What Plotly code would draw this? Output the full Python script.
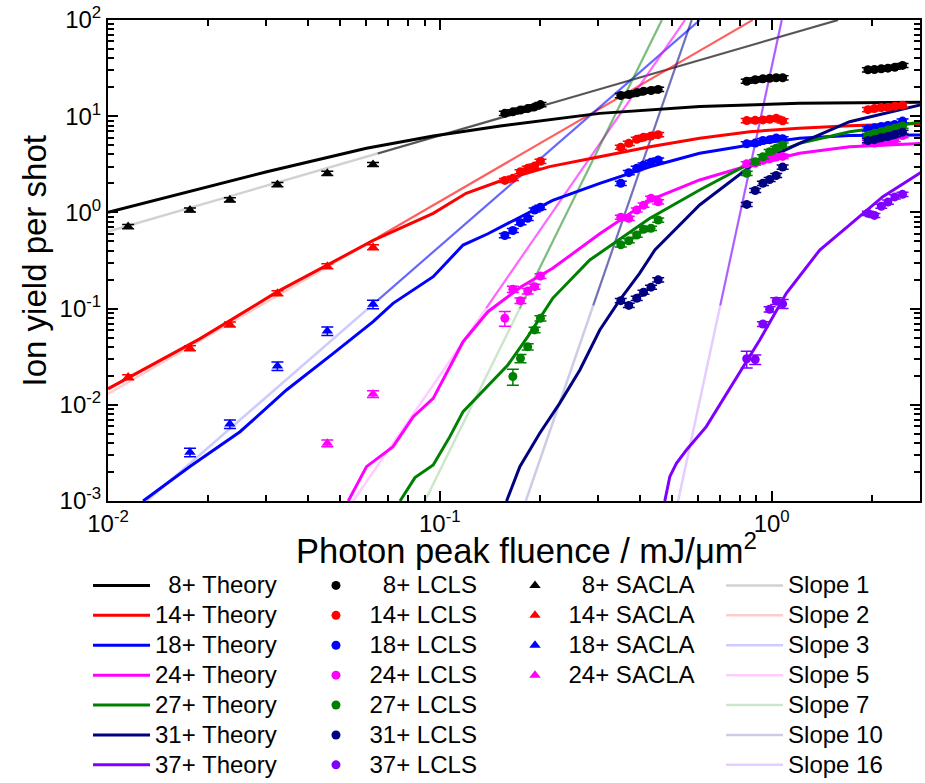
import plotly.graph_objects as go

FONT = "Liberation Sans, Arial, sans-serif"

# ---------------- data ----------------
X_RANGE_LOG = [-2.0, 0.447]
Y_RANGE_LOG = [-3.0, 2.0]

CHARGES = ["8+", "14+", "18+", "24+", "27+", "31+", "37+"]
COLORS = ["#000000", "#FF0000", "#0000FF", "#FF00FF", "#008000", "#000080", "#8000FF"]

# Theory curves
THEORY_8_X = [0.01, 0.0177, 0.0301, 0.0601, 0.0955, 0.152, 0.303, 0.607, 1.21, 2.89]
THEORY_8_Y = [1.0, 1.65, 2.65, 4.65, 6.22, 7.9, 10.7, 12.6, 13.6, 14.0]
THEORY_14_X = [0.01, 0.0189, 0.0324, 0.0478, 0.0630, 0.0955, 0.120, 0.152, 0.214, 0.303,
               0.430, 0.607, 0.859, 1.21, 1.72, 2.89]
THEORY_14_Y = [0.01466, 0.0485, 0.150, 0.308, 0.511, 0.977, 1.58, 2.12, 2.99, 3.79,
               4.82, 5.89, 6.90, 7.48, 7.96, 8.43]
THEORY_18_X = [0.01276, 0.01766, 0.025, 0.03451, 0.04775, 0.06295, 0.07228, 0.0955, 0.1175,
               0.1396, 0.1742, 0.2188, 0.3034, 0.4295, 0.6067, 0.859, 1.213, 1.718, 2.891]
THEORY_18_Y = [0.001, 0.002286, 0.005248, 0.01426, 0.03428, 0.07311, 0.1135, 0.2148, 0.4581,
               0.5998, 0.8913, 1.334, 2.004, 2.985, 4.111, 5.023, 5.888, 6.31, 6.383]
THEORY_24_X = [0.05297, 0.06012, 0.07228, 0.08318, 0.0955, 0.1175, 0.1396, 0.1758, 0.2188,
               0.3034, 0.4295, 0.6067, 0.859, 1.213, 1.718, 2.891]
THEORY_24_Y = [0.001, 0.002275, 0.003673, 0.007516, 0.01167, 0.04529, 0.0929, 0.169, 0.2624,
               0.5998, 1.346, 2.173, 3.097, 4.111, 4.819, 5.224]
THEORY_27_X = [0.07586, 0.08414, 0.0955, 0.1072, 0.1175, 0.1396, 0.1603, 0.1841, 0.2188,
               0.2831, 0.4295, 0.6067, 0.859, 1.213, 1.718, 2.891]
THEORY_27_Y = [0.001, 0.00175, 0.002366, 0.004667, 0.008492, 0.01567, 0.02594, 0.05105, 0.1279,
               0.3199, 0.869, 1.71, 3.236, 5.224, 6.902, 8.77]
THEORY_31_X = [0.1589, 0.1742, 0.2, 0.2296, 0.2642, 0.3034, 0.3483, 0.3999, 0.4446, 0.6067,
               0.859, 1.213, 1.718, 2.891]
THEORY_31_Y = [0.001, 0.002275, 0.005058, 0.01035, 0.02301, 0.05998, 0.1227, 0.2328, 0.4064,
               1.194, 2.985, 5.224, 8.77, 13.4]
THEORY_37_X = [0.4764, 0.4932, 0.5164, 0.5534, 0.6353, 0.7656, 0.9204, 1.107, 1.396, 1.718,
               2.163, 2.891]
THEORY_37_Y = [0.001, 0.001791, 0.002466, 0.003388, 0.005929, 0.01675, 0.0471, 0.1442, 0.4064,
               0.7413, 1.459, 2.761]

THEORY_X = [THEORY_8_X, THEORY_14_X, THEORY_18_X, THEORY_24_X, THEORY_27_X, THEORY_31_X, THEORY_37_X]
THEORY_Y = [THEORY_8_Y, THEORY_14_Y, THEORY_18_Y, THEORY_24_Y, THEORY_27_Y, THEORY_31_Y, THEORY_37_Y]

# LCLS measurements: four fluence clusters, six points each
LCLS_X = [0.157, 0.166, 0.175, 0.184, 0.193, 0.201,
          0.351, 0.371, 0.392, 0.411, 0.433, 0.455,
          0.841, 0.892, 0.941, 0.986, 1.032, 1.079,
          1.95, 2.04, 2.14, 2.24, 2.35, 2.48]
LCLS_8 = [10.7, 11.1, 11.6, 12.0, 12.5, 13.2,
          16.4, 16.8, 17.5, 18.2, 18.5, 19.0,
          23.1, 23.9, 24.5, 24.8, 25.1, 25.1,
          30.4, 30.6, 31.1, 31.6, 32.3, 33.7]
LCLS_14 = [2.15, 2.26, 2.65, 2.87, 3.03, 3.40,
           4.76, 5.22, 5.75, 6.04, 6.23, 6.43,
           9.0, 9.05, 9.15, 9.3, 9.5, 8.95,
           11.7, 12.0, 12.3, 12.4, 12.7, 13.0]
LCLS_18 = [0.575, 0.649, 0.782, 0.869, 1.06, 1.13,
           2.01, 2.59, 2.87, 3.11, 3.32, 3.51,
           5.16, 5.25, 5.59, 5.70, 5.93, 5.84,
           7.40, 7.58, 7.82, 8.01, 8.21, 8.90]
LCLS_24 = [0.0794, 0.159, 0.121, 0.152, 0.169, 0.218,
           0.891, 0.869, 1.06, 1.19, 1.40, 1.29,
           3.20, 3.25, 3.47, 3.61, 3.76, 3.82,
           5.37, 5.25, 5.37, 5.50, 5.70, 6.30]
LCLS_27 = [None, 0.0197, 0.0304, 0.0402, 0.060, 0.0793,
           0.46, 0.508, 0.582, 0.667, 0.684, 0.834,
           2.55, 3.37, 3.79, 4.28, 4.64, 5.02,
           6.30, 6.64, 6.90, 7.19, 7.49, 7.90]
LCLS_31 = [None, None, None, None, None, None,
           0.121, 0.108, 0.128, 0.148, 0.167, 0.199,
           1.21, 1.69, 2.01, 2.20, 2.42, 2.96,
           5.58, 5.70, 5.97, 6.15, 6.45, 6.82]
LCLS_37 = [None, None, None, None, None, None,
           None, None, None, None, None, None,
           0.0301, 0.0296, 0.0692, 0.0984, 0.120, 0.112,
           0.98, 0.93, 1.16, 1.28, 1.45, 1.54]
LCLS_Y = [LCLS_8, LCLS_14, LCLS_18, LCLS_24, LCLS_27, LCLS_31, LCLS_37]
LCLS_ERR_FRAC = 0.05
# larger individual error bars (absolute), keyed by (series index, point index)
LCLS_ERR_ABS = {(3, 0): 0.014, (3, 1): 0.012, (3, 2): 0.008, (3, 3): 0.01, (3, 4): 0.01, (3, 5): 0.012,
                (4, 1): 0.0037, (4, 2): 0.003, (4, 3): 0.003, (4, 4): 0.004, (4, 5): 0.005,
                (6, 12): 0.006, (6, 13): 0.0034, (6, 14): 0.004, (6, 15): 0.006, (6, 16): 0.01, (6, 17): 0.012}

# SACLA measurements
SACLA_X = [0.0115, 0.01766, 0.0233, 0.0324, 0.0458, 0.0629]
SACLA_8 = [0.713, 1.06, 1.35, 1.95, 2.55, 3.15]
SACLA_14 = [0.0194, 0.0388, 0.0684, 0.1445, 0.276, 0.435]
SACLA_18 = [None, 0.00321, 0.0063, 0.0253, 0.0585, 0.111]
SACLA_24 = [None, None, None, None, 0.00399, 0.01295]
SACLA_Y = [SACLA_8, SACLA_14, SACLA_18, SACLA_24]
SACLA_ERR_FRAC = [0.05, 0.06, 0.10, 0.08]

# Power-law guide lines y = A * x^n
SLOPES = [1, 2, 3, 5, 7, 10, 16]
SLOPE_PREFACTORS = [63.1, 130.0, 446.0, 2020.0, 20700.0, 25700.0, 32.5]
SLOPE_STRONG_FROM = [0.065, 0.065, 0.065, 0.138, 0.174, 0.29, 0.70]
SLOPE_RGB = ["0,0,0", "255,0,0", "0,0,255", "255,0,255", "0,128,0", "0,0,128", "128,0,255"]
SLOPE_PALE_ALPHA = [0.18, 0.2, 0.2, 0.2, 0.2, 0.2, 0.2]
SLOPE_STRONG_ALPHA = [0.6, 0.55, 0.5, 0.5, 0.4, 0.45, 0.55]

X_MAJOR = [0.01, 0.1, 1.0]
X_MAJOR_TEXT = ["10<sup>-2</sup>", "10<sup>-1</sup>", "10<sup>0</sup>"]
Y_MAJOR = [0.001, 0.01, 0.1, 1.0, 10.0, 100.0]
Y_MAJOR_TEXT = ["10<sup>-3</sup>", "10<sup>-2</sup>", "10<sup>-1</sup>",
                "10<sup>0</sup>", "10<sup>1</sup>", "10<sup>2</sup>"]
MINOR_MULT = [2, 3, 4, 5, 6, 7, 8, 9]

FIG_SPACE = "\u2007"
LEGEND_TEXT_PX = 24


def legend_label(charge, kind):
    pad = FIG_SPACE if len(charge) == 2 else ""
    return f"<span style='font-size:{LEGEND_TEXT_PX}px'>{pad}{charge} {kind}</span>"


# ---------------- figure ----------------
fig = go.Figure()

x_lo_lim = 10 ** X_RANGE_LOG[0]
x_hi_lim = 10 ** X_RANGE_LOG[1] * 1.05
y_lo_lim = 10 ** Y_RANGE_LOG[0]
y_hi_lim = 10 ** Y_RANGE_LOG[1]

# guide lines
for n, a, xs, rgb, pa, sa in zip(SLOPES, SLOPE_PREFACTORS, SLOPE_STRONG_FROM, SLOPE_RGB,
                                 SLOPE_PALE_ALPHA, SLOPE_STRONG_ALPHA):
    xa = max(x_lo_lim, (y_lo_lim / a) ** (1.0 / n))
    xb = min(x_hi_lim, (y_hi_lim / a) ** (1.0 / n))
    fig.add_trace(go.Scatter(
        x=[xa, xb], y=[a * xa ** n, a * xb ** n], mode="lines",
        line=dict(color=f"rgba({rgb},{pa})", width=2.5),
        name=f"<span style='font-size:{LEGEND_TEXT_PX}px'>Slope {n}</span>",
        legend="legend4", hoverinfo="skip"))
    xs0 = max(xa, xs)
    if xs0 < xb:
        fig.add_trace(go.Scatter(
            x=[xs0, xb], y=[a * xs0 ** n, a * xb ** n], mode="lines",
            line=dict(color=f"rgba({rgb},{sa})", width=2),
            showlegend=False, hoverinfo="skip"))

# theory
for q, c, tx, ty in zip(CHARGES, COLORS, THEORY_X, THEORY_Y):
    fig.add_trace(go.Scatter(x=tx, y=ty, mode="lines", line=dict(color=c, width=3),
                             name=legend_label(q, "Theory"), legend="legend"))

# SACLA
for i, (ys, frac) in enumerate(zip(SACLA_Y, SACLA_ERR_FRAC)):
    q = CHARGES[i]
    c = COLORS[i]
    err = [None if v is None else v * frac for v in ys]
    fig.add_trace(go.Scatter(
        x=SACLA_X, y=ys, mode="markers", name=legend_label(q, "SACLA"), legend="legend3",
        marker=dict(symbol="triangle-up", size=10, color=c),
        error_y=dict(type="data", array=err, color=c, thickness=1.5, width=6)))

# LCLS
for i, (q, c, ys) in enumerate(zip(CHARGES, COLORS, LCLS_Y)):
    err = []
    for j, v in enumerate(ys):
        if v is None:
            err.append(None)
        else:
            err.append(LCLS_ERR_ABS.get((i, j), v * LCLS_ERR_FRAC))
    fig.add_trace(go.Scatter(
        x=LCLS_X, y=ys, mode="markers", name=legend_label(q, "LCLS"), legend="legend2",
        marker=dict(symbol="circle", size=9, color=c),
        error_y=dict(type="data", array=err, color=c, thickness=1.5, width=6)))

x_minor = [m * d for d in [0.01, 0.1, 1.0] for m in MINOR_MULT]
y_minor = [m * d for d in [0.001, 0.01, 0.1, 1.0, 10.0] for m in MINOR_MULT]

axis_common = dict(
    type="log", showgrid=False, zeroline=False,
    showline=True, linecolor="black", linewidth=2, mirror="ticks",
    ticks="inside", ticklen=10, tickwidth=2, tickcolor="black",
    tickmode="array", tickfont=dict(family=FONT, size=24, color="black"),
    ticklabeloverflow="allow",
)

fig.update_xaxes(range=X_RANGE_LOG, tickvals=X_MAJOR, ticktext=X_MAJOR_TEXT,
                 minor=dict(tickvals=x_minor, ticks="inside", ticklen=6, tickwidth=1.5,
                            tickcolor="black", showgrid=False),
                 **axis_common)
fig.update_yaxes(range=Y_RANGE_LOG, tickvals=Y_MAJOR, ticktext=Y_MAJOR_TEXT,
                 minor=dict(tickvals=y_minor, ticks="inside", ticklen=6, tickwidth=1.5,
                            tickcolor="black", showgrid=False),
                 **axis_common)

legend_common = dict(
    y=-0.134, xanchor="left", yanchor="top", orientation="v",
    font=dict(family=FONT, size=20.7, color="black"),
    bgcolor="rgba(0,0,0,0)", borderwidth=0, itemwidth=57, tracegroupgap=0,
    traceorder="normal",
)

fig.update_layout(
    width=925, height=783,
    margin=dict(l=108, r=5, t=20, b=282, autoexpand=False),
    paper_bgcolor="white", plot_bgcolor="white",
    font=dict(family=FONT, color="black"),
    showlegend=True,
    legend=dict(x=-0.0246, **legend_common),
    legend2=dict(x=0.2395, **legend_common),
    legend3=dict(x=0.4846, **legend_common),
    legend4=dict(x=0.755, **legend_common),
    annotations=[
        dict(text="Photon peak fluence / mJ/\u03bcm<sup>2</sup>", xref="paper", yref="paper",
             x=0.515, y=-0.098, xanchor="center", yanchor="middle", showarrow=False,
             font=dict(family=FONT, size=34.5, color="black")),
        dict(text="Ion yield per shot", xref="paper", yref="paper",
             x=-0.09, y=0.5, xanchor="center", yanchor="middle", showarrow=False,
             textangle=-90, font=dict(family=FONT, size=33, color="black")),
    ],
)

# place the 925x783 figure flush with the page corner (no default body margin)
fig.write_html("out.html", config={"displayModeBar": False},
               post_script="document.body.style.margin='0px';")
